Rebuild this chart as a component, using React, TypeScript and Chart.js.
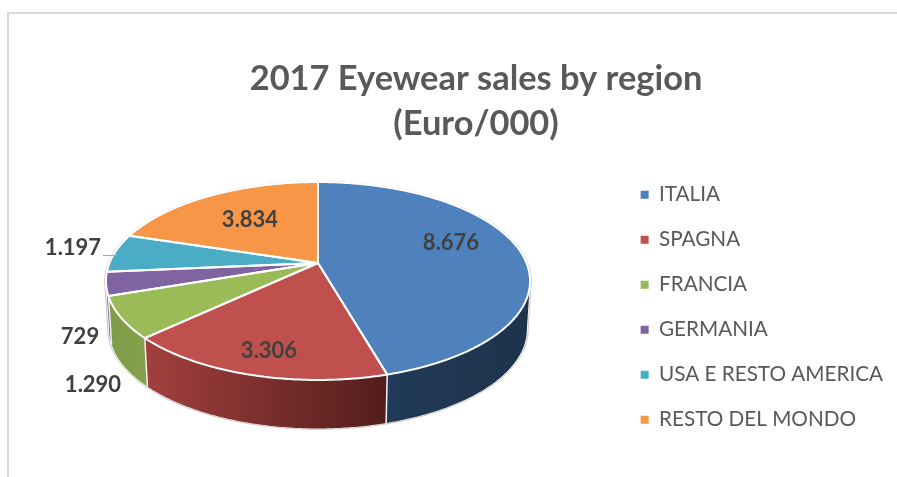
import React, { useEffect, useRef } from "react";
import { Chart, registerables } from "chart.js";

Chart.register(...registerables);

const titleLines = ["2017 Eyewear sales by region", "(Euro/000)"];
const regions = ["ITALIA", "SPAGNA", "FRANCIA", "GERMANIA", "USA E RESTO AMERICA", "RESTO DEL MONDO"];
const sales = [8676, 3306, 1290, 729, 1197, 3834];
const topColors = ["#4F81BD", "#C0504D", "#9BBB59", "#8064A2", "#4BACC6", "#F79646"];
const wallLeftColors = ["#213A57", "#A2403E", "#7F9B49", "#66508A", "#3C8A9E", "#C67838"];
const wallRightColors = ["#1E334C", "#521D1B", "#85A04B", "#66508A", "#3C8A9E", "#C67838"];
// Text anchors of the value labels (centre of each label), in canvas pixels.
const labelAnchors: [number, number][] = [
  [451, 243],
  [269, 351],
  [93, 385],
  [80, 337],
  [73, 248],
  [250, 220],
];

const FONT = "Lato, 'Open Sans', sans-serif";
const CX = 318;
const CY = 263;
const K = -0.1818;
const A = 95.7;
const C = 208.5;
const DEPTH = 48.5;
const BOTTOM_SHRINK = 0.985;

// Perspective projection of the unit disc, angle measured clockwise from the top.
function project(theta: number, r = 1): [number, number] {
  const ux = r * Math.sin(theta);
  const uy = -r * Math.cos(theta);
  const w = 1 + K * uy;
  return [CX + (C * ux) / w, CY + (A * uy) / w];
}
function projectBottom(theta: number, r = 1): [number, number] {
  const [x, y] = project(theta, r);
  return [CX + (x - CX) * BOTTOM_SHRINK, y + DEPTH];
}

const WALL_START = (100.5 * Math.PI) / 180;
const WALL_END = (259.5 * Math.PI) / 180;

function traceArc(ctx: CanvasRenderingContext2D, from: number, to: number, fn: (t: number) => [number, number], move: boolean) {
  const steps = Math.max(2, Math.ceil(Math.abs(to - from) / 0.01));
  for (let i = 0; i <= steps; i++) {
    const [x, y] = fn(from + ((to - from) * i) / steps);
    if (i === 0 && move) ctx.moveTo(x, y);
    else ctx.lineTo(x, y);
  }
}

const pie3d = {
  id: "pie3d",
  beforeDatasetsDraw(chart: any) {
    const ctx: CanvasRenderingContext2D = chart.ctx;
    const arcs = chart.getDatasetMeta(0).data.map((a: any) => ({
      start: a.startAngle + Math.PI / 2,
      end: a.endAngle + Math.PI / 2,
    }));
    ctx.save();
    ctx.lineJoin = "round";

    // soft outline round the silhouette
    ctx.beginPath();
    traceArc(ctx, WALL_START, WALL_END, (t) => projectBottom(t, 1.006), true);
    traceArc(ctx, WALL_END, WALL_START + Math.PI * 2, (t) => project(t, 1.006), false);
    ctx.closePath();
    ctx.strokeStyle = "#C8C8C8";
    ctx.lineWidth = 1;
    ctx.stroke();

    // walls
    arcs.forEach((a: any, i: number) => {
      const from = Math.max(a.start, WALL_START);
      const to = Math.min(a.end, WALL_END);
      if (to <= from) return;
      const x0 = project(from)[0];
      const x1 = project(to)[0];
      const grad = ctx.createLinearGradient(x1, 0, x0, 0);
      grad.addColorStop(0, wallLeftColors[i]);
      grad.addColorStop(1, wallRightColors[i]);
      ctx.beginPath();
      traceArc(ctx, from, to, project, true);
      traceArc(ctx, to, from, projectBottom, false);
      ctx.closePath();
      ctx.fillStyle = grad;
      ctx.fill();
    });
    // wall seams
    ctx.strokeStyle = "#F2F2F2";
    ctx.lineWidth = 1.5;
    arcs.forEach((a: any) => {
      if (a.end > WALL_START && a.end < WALL_END) {
        const p = project(a.end);
        const q = projectBottom(a.end);
        ctx.beginPath();
        ctx.moveTo(p[0], p[1]);
        ctx.lineTo(q[0], q[1]);
        ctx.stroke();
      }
    });

    // top faces
    arcs.forEach((a: any, i: number) => {
      ctx.beginPath();
      ctx.moveTo(CX, CY);
      traceArc(ctx, a.start, a.end, project, false);
      ctx.closePath();
      ctx.fillStyle = topColors[i];
      ctx.fill();
    });
    ctx.strokeStyle = "#FFFFFF";
    ctx.lineWidth = 2;
    arcs.forEach((a: any) => {
      ctx.beginPath();
      ctx.moveTo(CX, CY);
      traceArc(ctx, a.start, a.end, project, false);
      ctx.closePath();
      ctx.stroke();
    });

    // leader line of the USA label
    ctx.strokeStyle = "#A6A6A6";
    ctx.lineWidth = 1;
    ctx.beginPath();
    ctx.moveTo(103, 255.5);
    ctx.lineTo(117, 255.5);
    ctx.stroke();

    // value labels
    ctx.fillStyle = "#404040";
    ctx.font = `bold 22px ${FONT}`;
    ctx.textAlign = "center";
    ctx.textBaseline = "middle";
    sales.forEach((v, i) => {
      const text = String(v).replace(/\B(?=(\d{3})+$)/g, ".");
      ctx.fillText(text, labelAnchors[i][0], labelAnchors[i][1]);
    });
    ctx.restore();
    return false;
  },
  beforeDraw(chart: any) {
    const ctx: CanvasRenderingContext2D = chart.ctx;
    ctx.save();
    ctx.fillStyle = "#FFFFFF";
    ctx.fillRect(0, 0, chart.width, chart.height);
    ctx.strokeStyle = "#D9D9D9";
    ctx.lineWidth = 2;
    ctx.beginPath();
    ctx.moveTo(8, chart.height);
    ctx.lineTo(8, 13);
    ctx.lineTo(chart.width, 13);
    ctx.stroke();
    ctx.restore();
  },
};

export default function App() {
  const ref = useRef<HTMLCanvasElement | null>(null);
  useEffect(() => {
    if (!ref.current) return;
    const chart = new Chart(ref.current, {
      type: "pie",
      data: {
        labels: regions,
        datasets: [{ data: sales, backgroundColor: topColors, borderWidth: 0 }],
      },
      plugins: [pie3d as any],
      options: {
        responsive: false,
        animation: false,
        layout: { padding: { left: 59, right: 4, top: 56, bottom: 0 } },
        plugins: {
          tooltip: { enabled: false },
          title: {
            display: true,
            text: titleLines,
            color: "#595959",
            font: { family: FONT, size: 34.4, weight: "bold", lineHeight: 1.31 },
            padding: { top: 0, bottom: 14 },
          },
          legend: {
            position: "right",
            align: "start",
            fullSize: false,
            labels: {
              color: "#595959",
              font: { family: FONT, size: 20.7 },
              boxWidth: 8,
              boxHeight: 8,
              padding: 24.3,
            },
          },
        },
      } as any,
    });
    return () => chart.destroy();
  }, []);
  return (
    <canvas
      ref={ref}
      width={897}
      height={477}
      style={{ position: "fixed", left: 0, top: 0, width: 897, height: 477 }}
    />
  );
}
